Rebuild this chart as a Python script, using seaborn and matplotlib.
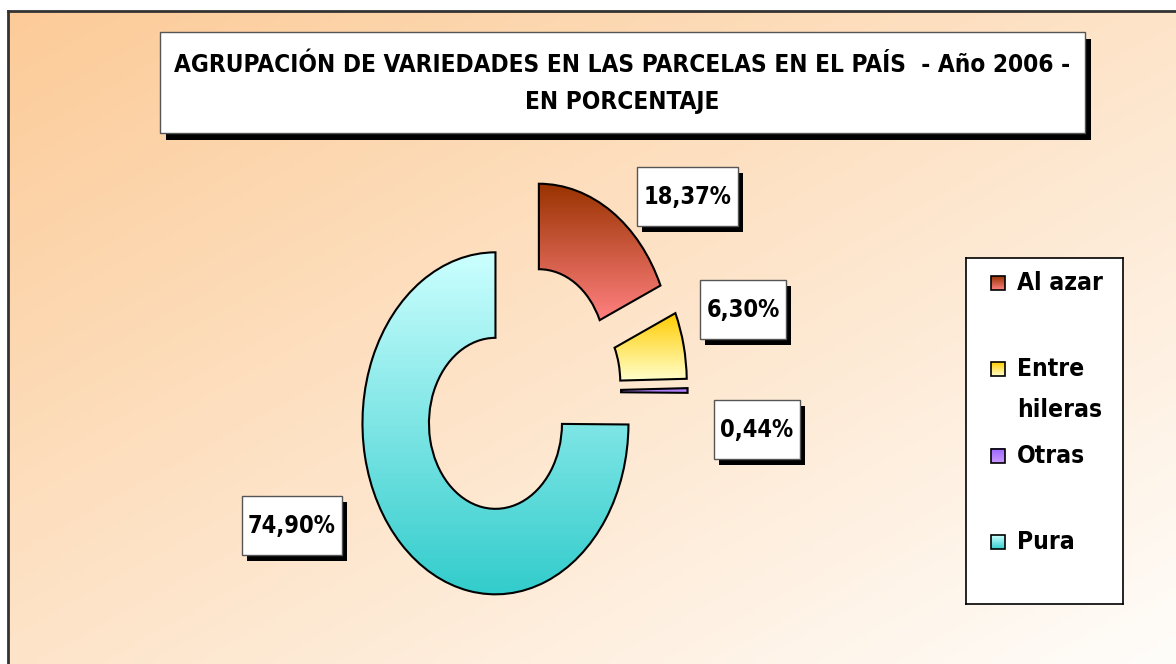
import numpy as np
import matplotlib
matplotlib.use('Agg')
import matplotlib.pyplot as plt
import seaborn as sns
from matplotlib.colors import LinearSegmentedColormap
from matplotlib.patches import Rectangle
from matplotlib import font_manager, patheffects
from matplotlib.font_manager import FontProperties

# Data
categories = ['Al azar', 'Entre\nhileras', 'Otras', 'Pura']
values = [18.37, 6.30, 0.44, 74.90]
value_labels = ['18,37%', '6,30%', '0,44%', '74,90%']
title_lines = ['AGRUPACIÓN DE VARIEDADES EN LAS PARCELAS EN EL PAÍS  - Año 2006 -',
               'EN PORCENTAJE']

# gradient colours for each slice (top -> bottom)
grad_top = ['#993300', '#FFCC00', '#9966FF', '#CCFFFF']
grad_bottom = ['#FF8080', '#FFFFCC', '#CC99FF', '#33CCCC']

sns.set_style('white')
plt.rcParams['font.family'] = ['DejaVu Sans']
plt.rcParams['text.color'] = 'black'

# look for a narrow bold face (the original font is tall and narrow)
fp = FontProperties(family='DejaVu Sans', weight='bold')
best = None
for f in font_manager.fontManager.ttflist:
    w = f.weight if isinstance(f.weight, int) else (700 if 'bold' in str(f.weight) else 400)
    nm = (f.name + ' ' + f.fname).lower()
    flat = nm.replace('-', '').replace(' ', '')
    if w != 700 or 'italic' in nm or f.style != 'normal':
        continue
    if 'extracondensed' in flat or 'semicondensed' in flat:
        continue
    if 'narrow' in nm or 'condensed' in nm or f.stretch == 'condensed':
        if best is None or 'noto' in nm or 'liberation' in nm:
            best = f
if best is not None:
    fp = FontProperties(fname=best.fname)

W, H = 1176, 664
fig = plt.figure(figsize=(W / 100, H / 100), dpi=100)
renderer = fig.canvas.get_renderer()


def fit(txt, target_px, size=20):
    # scale the font so that the text is as wide as in the original
    txt.set_fontsize(size)
    wpx = txt.get_window_extent(renderer).width
    txt.set_fontsize(size * target_px / wpx)
    return size * target_px / wpx


# background with diagonal gradient, only top/left border visible
bg = fig.add_axes([8 / W, 0, 1 - 8 / W, 1 - 11 / H], zorder=0)
yy, xx = np.mgrid[0:1:200j, 0:1:300j]
t = (xx + yy) / 2
c0 = np.array([252, 203, 152]) / 255
c1 = np.array([255, 253, 250]) / 255
bg.imshow(c0 + (c1 - c0) * t[..., None], aspect='auto', extent=[0, 1, 0, 1], origin='upper')
bg.set_xticks([])
bg.set_yticks([])
for side in ['right', 'bottom']:
    bg.spines[side].set_visible(False)
for side in ['top', 'left']:
    bg.spines[side].set_color('#333333')
    bg.spines[side].set_linewidth(2)

# title box with shadow
tbox = Rectangle((160 / W, 1 - 133 / H), 925 / W, 101 / H, transform=fig.transFigure,
                 facecolor='white', edgecolor='#555555', lw=1, zorder=1)
tbox.set_path_effects([patheffects.SimplePatchShadow(offset=(4.3, -5), shadow_rgbFace='black', alpha=1),
                       patheffects.Normal()])
fig.add_artist(tbox)
t1 = fig.text(622 / W, 1 - 65 / H, title_lines[0], ha='center', va='center',
              fontproperties=fp, zorder=3)
fs_title = fit(t1, 895)
fig.text(622 / W, 1 - 102 / H, title_lines[1], ha='center', va='center',
         fontproperties=fp, fontsize=fs_title, zorder=3)

# doughnut (stretched vertically like the original)
rx, ry, cx, cy = 133, 171, 520, 392
ax = fig.add_axes([(cx - 1.5 * rx) / W, (H - cy - 1.5 * ry) / H, 3 * rx / W, 3 * ry / H], zorder=2)
mid_cols = [sns.blend_palette([a, b], 3)[1] for a, b in zip(grad_top, grad_bottom)]
wedges, _ = ax.pie(values, startangle=90, counterclock=False, explode=[0.26] * 4,
                   colors=mid_cols,
                   wedgeprops=dict(width=0.5, edgecolor='black', linewidth=1.5))
for w, top, bot in zip(wedges, grad_top, grad_bottom):
    x0, y0, x1, y1 = w.get_path().get_extents().extents
    cmap = LinearSegmentedColormap.from_list('g', [bot, top])
    im = ax.imshow(np.linspace(0, 1, 200).reshape(-1, 1), extent=[x0, x1, y0, y1],
                   origin='lower', cmap=cmap, aspect='auto', zorder=1.5)
    im.set_clip_path(w)
    w.set_facecolor('none')
    w.set_zorder(3)
ax.set_aspect('auto')
ax.set_xlim(-1.5, 1.5)
ax.set_ylim(-1.5, 1.5)
ax.axis('off')

# value labels in boxes with shadow
label_pos = [(1.259, 1.143), (1.677, 0.482), (1.782, -0.222), (-1.714, -0.781)]
labels = []
for (lx, ly), txt in zip(label_pos, value_labels):
    labels.append(ax.text(lx, ly, txt, ha='center', va='center', fontproperties=fp,
                          zorder=5, bbox=dict(boxstyle='square,pad=0.3', fc='white',
                                              ec='#555555', lw=1)))
fs_lab = fit(labels[0], 88)
fpx = fs_lab * 100 / 72
for lab in labels:
    lab.set_fontsize(fs_lab)
    h = lab.get_window_extent(renderer).height
    pad = 6.5 / fpx
    bp = lab.get_bbox_patch()
    bp.set_boxstyle('square', pad=pad)
    bp.set_mutation_aspect(max((59 - h) / 2, 1) / (pad * fpx))
    bp.set_path_effects([patheffects.SimplePatchShadow(offset=(3.6, -4.3), shadow_rgbFace='black', alpha=1),
                         patheffects.Normal()])

# legend box drawn by hand (pixel coordinates inside the box)
lax = fig.add_axes([966 / W, 1 - 604 / H, 157 / W, 346 / H], zorder=2)
lax.set_facecolor('white')
for s in lax.spines.values():
    s.set_color('black')
    s.set_linewidth(1.2)
lax.set_xlim(0, 157)
lax.set_ylim(346, 0)
ltexts = []
for i, (lab, top, bot) in enumerate(zip(categories, grad_top, grad_bottom)):
    yc = 25 + 86.3 * i
    cmap = LinearSegmentedColormap.from_list('g', [bot, top])
    lax.imshow(np.linspace(0, 1, 50).reshape(-1, 1), extent=[25, 39, yc + 7, yc - 7],
               origin='lower', cmap=cmap, aspect='auto')
    lax.add_patch(Rectangle((25, yc - 7), 14, 14, fc='none', ec='black', lw=1.2))
    ltexts.append(lax.text(51, yc, lab, ha='left', va='center', fontproperties=fp))
fs_leg = fit(ltexts[0], 86)
for lt in ltexts:
    lt.set_fontsize(fs_leg)
# two-line entry: first line next to the marker, 45 px to the next line
lt = ltexts[1]
lt.set_linespacing(1.0)
h1 = lt.get_window_extent(renderer).height
lt.set_text('Entre')
h0 = lt.get_window_extent(renderer).height
lt.set_text(categories[1])
lt.set_linespacing(45 / (h1 - h0))
lt.set_va('top')
lt.set_y(25 + 86.3 - h0 / 2)
lax.set_xlim(0, 157)
lax.set_ylim(346, 0)
lax.set_xticks([])
lax.set_yticks([])

fig.savefig('out.png', dpi=100)
